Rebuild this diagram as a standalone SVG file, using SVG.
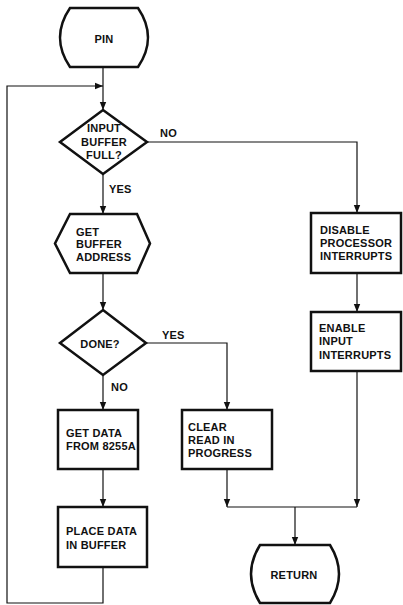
<svg xmlns="http://www.w3.org/2000/svg" width="403" height="605" viewBox="0 0 403 605">
  <style>
    .shape { fill: #fff; stroke: #111; stroke-width: 2.5; stroke-linejoin: miter; }
    .wire { fill: none; stroke: #111; stroke-width: 1.2; }
    text { font-family: "Liberation Sans", Arial, sans-serif; font-weight: bold; font-size: 11px; fill: #111; letter-spacing: 0.2px; }
    .mid { text-anchor: middle; }
  </style>
  <defs>
    <marker id="arrow" viewBox="0 0 8 10" refX="8" refY="5" markerWidth="8" markerHeight="10" markerUnits="userSpaceOnUse" orient="auto">
      <path d="M0,1.8 L8,5 L0,8.2 Z" fill="#111"/>
    </marker>
  </defs>
  <rect width="403" height="605" fill="#fff"/>

  <g id="connectors">
    <!-- start to first test -->
    <path class="wire" d="M103,67 V110" marker-end="url(#arrow)"/>
    <!-- loop back from buffer store -->
    <path class="wire" d="M103,567 V603 H7 V86 H103" marker-end="url(#arrow)"/>
    <!-- buffer full? YES -->
    <path class="wire" d="M103,174 V214" marker-end="url(#arrow)"/>
    <!-- buffer full? NO -->
    <path class="wire" d="M147,142 H357 V213" marker-end="url(#arrow)"/>
    <!-- address to done test -->
    <path class="wire" d="M103,273 V310" marker-end="url(#arrow)"/>
    <!-- done? NO -->
    <path class="wire" d="M103,375 V410" marker-end="url(#arrow)"/>
    <!-- done? YES -->
    <path class="wire" d="M146,343 H227 V410" marker-end="url(#arrow)"/>
    <!-- get data to place data -->
    <path class="wire" d="M103,469 V507" marker-end="url(#arrow)"/>
    <!-- disable to enable -->
    <path class="wire" d="M357,273 V312" marker-end="url(#arrow)"/>
    <!-- clear to junction -->
    <path class="wire" d="M227,469 V507" marker-end="url(#arrow)"/>
    <!-- enable to junction -->
    <path class="wire" d="M357,371 V507" marker-end="url(#arrow)"/>
    <path class="wire" d="M227,507 H357"/>
    <!-- junction to return -->
    <path class="wire" d="M295,507 V545" marker-end="url(#arrow)"/>
  </g>

  <g id="pin">
    <path class="shape" d="M70,8 H138 Q158,37.5 138,67 H70 Q50,37.5 70,8 Z"/>
    <text class="mid" x="104" y="43">PIN</text>
  </g>

  <g id="buffer-full">
    <path class="shape" d="M103,110 L147,142 L103,174 L60,142 Z"/>
    <text class="mid" x="104" y="132">INPUT</text>
    <text class="mid" x="104" y="146">BUFFER</text>
    <text class="mid" x="104" y="159">FULL?</text>
    <text x="160" y="137">NO</text>
    <text x="109" y="193">YES</text>
  </g>

  <g id="get-address">
    <path class="shape" d="M70,214 H137 L150,243.5 L137,273 H70 L55,243.5 Z"/>
    <text x="76" y="236">GET</text>
    <text x="76" y="248">BUFFER</text>
    <text x="76" y="261">ADDRESS</text>
  </g>

  <g id="done">
    <path class="shape" d="M103,310 L146,343 L103,375 L60,343 Z"/>
    <text class="mid" x="100" y="348">DONE?</text>
    <text x="162" y="339">YES</text>
    <text x="111" y="391">NO</text>
  </g>

  <g id="get-data">
    <rect class="shape" x="58" y="410" width="80" height="59"/>
    <text x="66" y="437">GET DATA</text>
    <text x="66" y="450">FROM 8255A</text>
  </g>

  <g id="place-data">
    <rect class="shape" x="58" y="507" width="89" height="60"/>
    <text x="66" y="535">PLACE DATA</text>
    <text x="66" y="549">IN BUFFER</text>
  </g>

  <g id="clear-read">
    <rect class="shape" x="182" y="410" width="90" height="59"/>
    <text x="188" y="431">CLEAR</text>
    <text x="188" y="444">READ IN</text>
    <text x="188" y="457">PROGRESS</text>
  </g>

  <g id="disable-processor">
    <rect class="shape" x="311" y="213" width="90" height="60"/>
    <text x="320" y="234">DISABLE</text>
    <text x="320" y="247">PROCESSOR</text>
    <text x="320" y="260">INTERRUPTS</text>
  </g>

  <g id="enable-input">
    <rect class="shape" x="311" y="312" width="90" height="59"/>
    <text x="319" y="332">ENABLE</text>
    <text x="319" y="345">INPUT</text>
    <text x="319" y="359">INTERRUPTS</text>
  </g>

  <g id="return">
    <path class="shape" d="M260,545 H330 Q348,574 330,603 H260 Q242,574 260,545 Z"/>
    <text class="mid" x="294" y="579">RETURN</text>
  </g>
</svg>
